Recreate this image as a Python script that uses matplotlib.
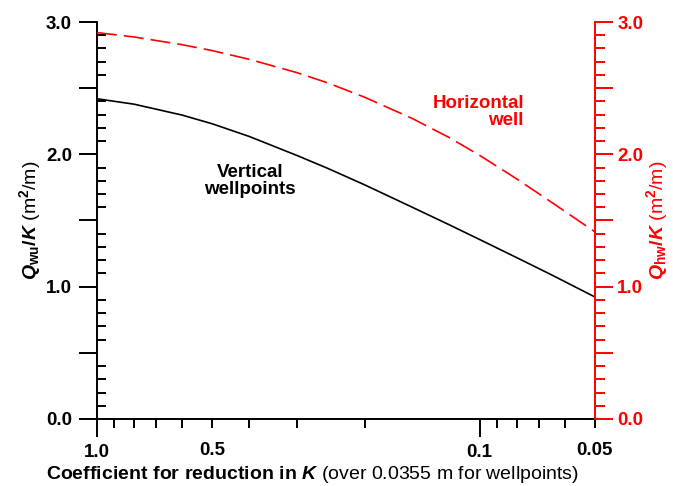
import matplotlib
matplotlib.use("Agg")
import matplotlib.pyplot as plt
from matplotlib.ticker import FixedLocator, FuncFormatter, MultipleLocator, NullFormatter

plt.rcParams["font.family"] = ["Liberation Sans", "DejaVu Sans"]
plt.rcParams["font.weight"] = "bold"
plt.rcParams["mathtext.fontset"] = "custom"
plt.rcParams["mathtext.rm"] = "Liberation Sans"
plt.rcParams["mathtext.it"] = "Liberation Sans:bold:italic"
plt.rcParams["mathtext.bf"] = "Liberation Sans:bold"

# reduction coefficient for K (log axis, reversed)
coef = [1.0, 0.8, 0.6, 0.5, 0.4, 0.3, 0.25, 0.2, 0.15, 0.12, 0.1, 0.08, 0.065, 0.05]
# Q/K for vertical wellpoints (left axis)
q_wellpoints = [2.42, 2.379, 2.297, 2.231, 2.135, 1.991, 1.895, 1.77, 1.60, 1.467,
                1.356, 1.219, 1.09, 0.922]
# Q/K for horizontal well (right axis)
q_horizontal = [2.92, 2.887, 2.829, 2.784, 2.718, 2.617, 2.541, 2.432, 2.271, 2.126,
                1.992, 1.814, 1.639, 1.414]

RED = "#ff0000"

fig = plt.figure(figsize=(6.73, 4.86), dpi=100)
ax = fig.add_axes([0.1441, 0.1379, 0.7399, 0.8168])
ax2 = ax.twinx()

ax.plot(coef, q_wellpoints, color="black", lw=1.2)
ax2.plot(coef, q_horizontal, color=RED, lw=1.2, dashes=(12, 4.2))

ax.set_xscale("log")
ax.set_xlim(1.0, 0.05)
ax.set_ylim(0, 3)
ax2.set_ylim(0, 3)

# x ticks: decades long, others short
ax.xaxis.set_major_locator(FixedLocator([1.0, 0.1]))
ax.xaxis.set_minor_locator(FixedLocator([0.9, 0.8, 0.7, 0.6, 0.5, 0.4, 0.3, 0.2,
                                         0.09, 0.08, 0.07, 0.06, 0.05]))
ax.xaxis.set_major_formatter(FuncFormatter(lambda v, p: "1.0" if v == 1.0 else "0.1"))
ax.xaxis.set_minor_formatter(FuncFormatter(
    lambda v, p: "0.5" if abs(v - 0.5) < 1e-9 else ("0.05" if abs(v - 0.05) < 1e-9 else "")))
ax.tick_params(axis="x", which="major", direction="out", length=13, width=1.4,
               labelsize=13.5, pad=5)
ax.tick_params(axis="x", which="minor", direction="out", length=6.5, width=1.4,
               labelsize=13.5, pad=10)

yfmt = FuncFormatter(lambda v, p: f"{v:.1f}" if abs(v - round(v)) < 1e-9 else "")
ax.yaxis.set_major_locator(MultipleLocator(0.5))
ax.yaxis.set_minor_locator(MultipleLocator(0.1))
ax.yaxis.set_major_formatter(yfmt)
ax.tick_params(axis="y", which="major", direction="out", length=13, width=1.4,
               labelsize=13.5, pad=5)
ax.tick_params(axis="y", which="minor", direction="in", length=6.5, width=1.4)

ax2.yaxis.set_major_locator(MultipleLocator(0.5))
ax2.yaxis.set_minor_locator(MultipleLocator(0.1))
ax2.yaxis.set_major_formatter(yfmt)
ax2.yaxis.set_minor_formatter(NullFormatter())
ax2.tick_params(axis="y", which="major", direction="out", length=13, width=1.4,
                labelsize=13.5, pad=3, color=RED, labelcolor=RED)
ax2.tick_params(axis="y", which="minor", direction="out", length=7, width=1.4, color=RED)

for a in (ax, ax2):
    a.spines["top"].set_visible(False)
ax.spines["right"].set_visible(False)
ax2.spines["left"].set_visible(False)
ax2.spines["bottom"].set_visible(False)
ax.spines["left"].set_linewidth(1.4)
ax.spines["bottom"].set_linewidth(1.4)
ax2.spines["right"].set_linewidth(1.4)
ax2.spines["right"].set_color(RED)

ax.set_ylabel(r"$Q_{\mathbf{wu}}\mathbf{/}K$ (m$^{\mathbf{2}}$/m)", fontsize=14,
              va="center", ha="center")
ax.yaxis.set_label_coords(-0.1345, 0.5)
ax2.set_ylabel(r"$Q_{\mathbf{hw}}\mathbf{/}K$ (m$^{\mathbf{2}}$/m)", fontsize=14,
               color=RED, rotation=90, va="center", ha="center")
ax2.yaxis.set_label_coords(1.1245, 0.5)

ax.set_xlabel(r"$\mathbf{Coefficient\ for\ reduction\ in}$ $K$ (over 0.0355 m for wellpoints)",
              fontsize=14, fontweight="normal", va="center", ha="center")
ax.xaxis.set_label_coords(0.4317, -0.141)

ax.text(0.398, 1.80, "Vertical\nwellpoints", fontsize=13.5, ha="center", va="center",
        multialignment="center", linespacing=1.0)
ax2.text(0.0766, 2.32, "Horizontal\nwell", fontsize=13.5, ha="right", va="center",
         multialignment="right", color=RED, linespacing=1.0)

fig.savefig("out.png", dpi=100)
